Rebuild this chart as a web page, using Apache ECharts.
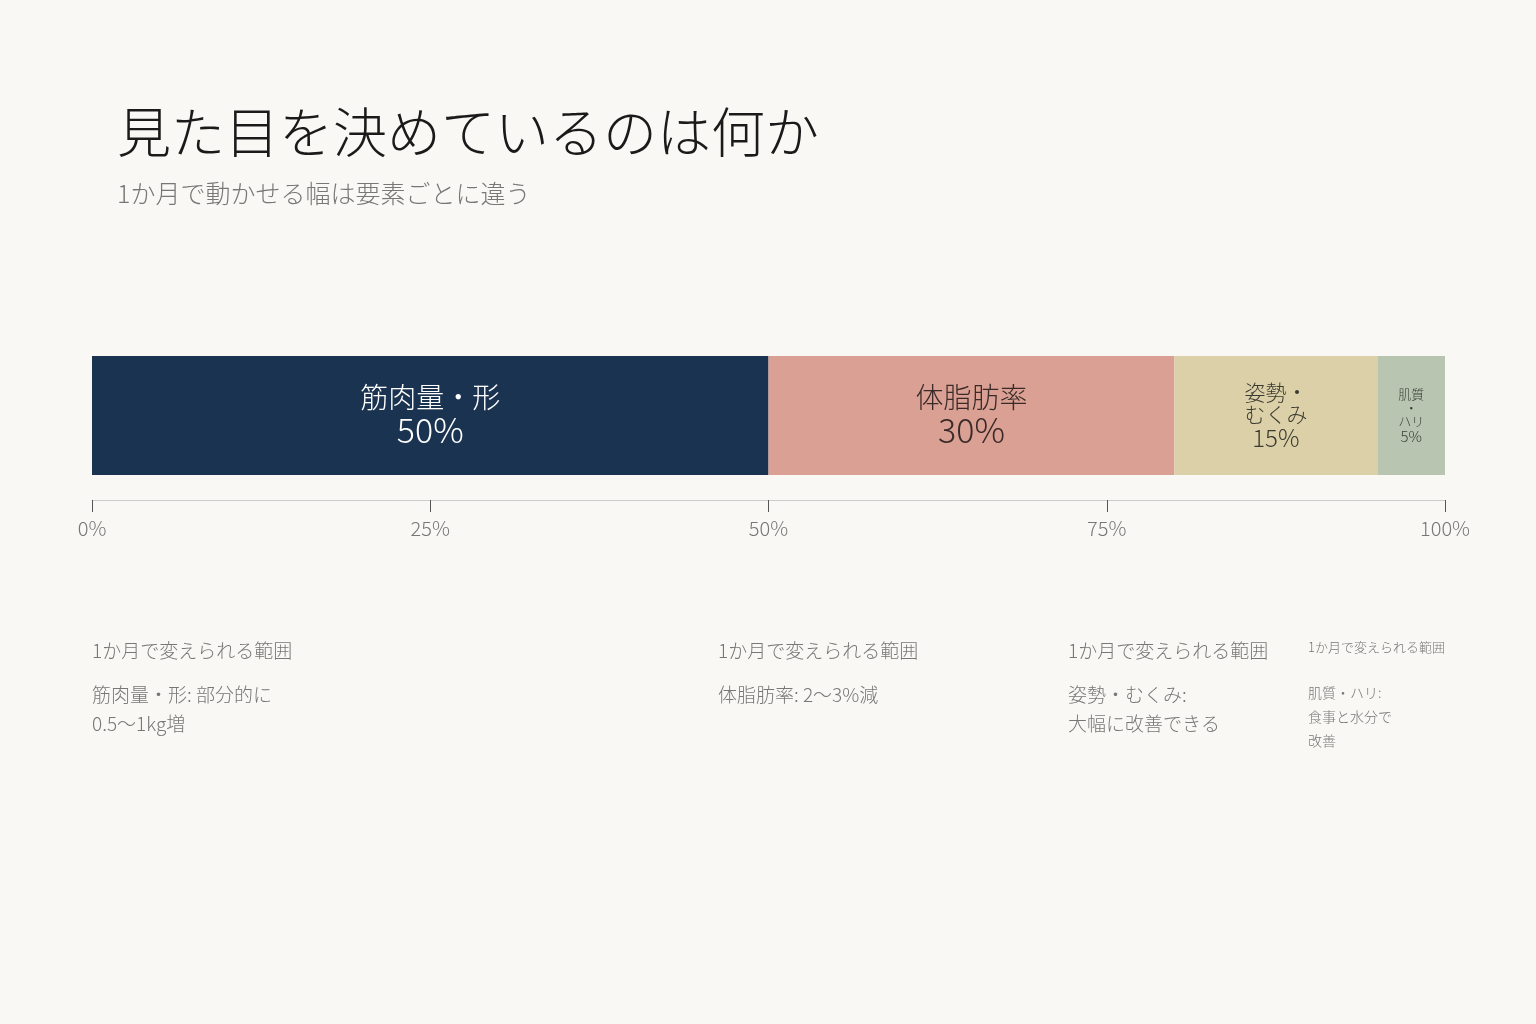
<!DOCTYPE html>
<html><head><meta charset="utf-8">
<script src="https://cdn.jsdelivr.net/npm/echarts@6/dist/echarts.min.js"></script>
<style>html,body{margin:0;background:#faf8f4}#c{width:1536px;height:1024px}</style>
</head><body><div id="c"></div>
<script>
const names = ['筋肉量・形', '体脂肪率', '姿勢・\nむくみ', '肌質\n・\nハリ'];
const values = [50, 30, 15, 5];
const colors = ['#1a3350', '#d9a093', '#dcd0a8', '#b8c5b0'];
const labelColors = ['#ffffff', '#3a2a28', '#3a3a30', '#3a4038'];
const labelSizes = [[28, 34], [28, 34], [21, 24], [13, 15]];
const tickLabels = ['0%', '25%', '50%', '75%', '100%'];
const notes = [
  {x: 92, head: '1か月で変えられる範囲', body: '筋肉量・形: 部分的に\n0.5〜1kg増', small: false},
  {x: 718, head: '1か月で変えられる範囲', body: '体脂肪率: 2〜3%減', small: false},
  {x: 1068, head: '1か月で変えられる範囲', body: '姿勢・むくみ:\n大幅に改善できる', small: false},
  {x: 1308, head: '1か月で変えられる範囲', body: '肌質・ハリ:\n食事と水分で\n改善', small: true}
];
const F = '"Noto Sans CJK JP","Noto Sans",sans-serif';
const chart = echarts.init(document.getElementById('c'));
const graphic = [];
notes.forEach(n => {
  graphic.push({type:'text', left:n.x, top:n.small?641:641, style:{text:n.head, font:`300 ${n.small?13:19}px ${F}`, fill:'#777'}});
  graphic.push({type:'text', left:n.x, top:n.small?681:680, style:{text:n.body, font:`300 ${n.small?14:19}px ${F}`, fill:'#777', lineHeight:n.small?24:29}});
});
chart.setOption({
  backgroundColor:'#faf8f4',
  animation:false,
  title:{text:'見た目を決めているのは何か', subtext:'1か月で動かせる幅は要素ごとに違う', left:112, top:100,
    textStyle:{fontFamily:F, fontSize:54, fontWeight:300, color:'#1a1a1a'},
    subtextStyle:{fontFamily:F, fontSize:25, fontWeight:300, color:'#777'}, itemGap:22},
  grid:{left:92, right:91, top:356, height:119},
  xAxis:{type:'value', min:0, max:100, interval:25, offset:25,
    axisLine:{show:true, lineStyle:{color:'#ccc'}},
    axisTick:{show:true, length:12, lineStyle:{color:'#555'}},
    splitLine:{show:false},
    axisLabel:{formatter:v=>tickLabels[v/25], fontFamily:F, fontSize:20, fontWeight:300, color:'#777', margin:18}},
  yAxis:{type:'category', data:['x'], show:false},
  graphic,
  series: names.map((nm,i)=>({
    type:'bar', stack:'a', name:nm, data:[values[i]], barWidth:119,
    itemStyle:{color:colors[i]},
    label:{show:true, position:'inside', formatter:`{a|${nm}}\n{b|${values[i]}%}`,
      rich:{a:{fontFamily:F, fontSize:labelSizes[i][0], fontWeight:300, color:labelColors[i], lineHeight:labelSizes[i][0]*1.05, align:'center'},
            b:{fontFamily:F, fontSize:labelSizes[i][1], fontWeight:300, color:labelColors[i], lineHeight:labelSizes[i][1]*1.05, align:'center'}}}
  }))
});
</script></body></html>
